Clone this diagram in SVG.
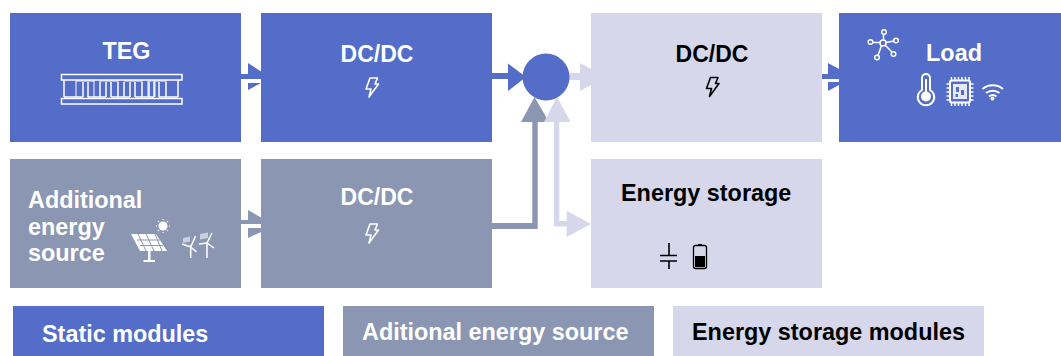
<svg xmlns="http://www.w3.org/2000/svg" width="1061" height="356" viewBox="0 0 1061 356">
<style>
.b{fill:#536DC8}.g{fill:#8B96B2}.l{fill:#D6D7EB}
text{font-family:"Liberation Sans",Arial,sans-serif;font-weight:700;font-size:23.400px}
.d{font-size:23px}
.w{fill:#fff}.k{fill:#000}.m{text-anchor:middle}
.iw{fill:none;stroke:#fff;stroke-width:1.5}
.ik{fill:none;stroke:#000;stroke-width:1.5}
.bolt{stroke-width:1.6;stroke-linejoin:round}
</style>
<defs>
<path id="bolt" class="bolt" d="M4 0H11.500L9 6H12.500L3 19L5 11H0Z"/>
</defs>
<g id="connectors">
<g class="b"><rect x="241" y="74" width="10" height="5"/><path d="M248 63L261 71.500V83L248 90Z"/>
<rect x="492" y="73" width="20" height="6"/><path d="M508 63.500L526 77L508 91Z"/>
<rect x="822" y="74" width="10" height="5"/><path d="M828 63L839 69V85L828 91Z"/></g>
<rect x="241" y="79" width="20" height="4" fill="#fff"/>
<rect x="822" y="79" width="17" height="3" fill="#fff"/>
<g class="g"><rect x="241" y="220" width="10" height="4"/><path d="M248 210L261 217.500V232L248 238Z"/>
<path d="M492 223H532.300V120H537.700V229H492Z"/><path d="M521 122L534.500 97L549 122Z"/></g>
<rect x="241" y="224" width="20" height="4" fill="#fff"/>
<g class="l"><rect x="569" y="73" width="14" height="7"/><path d="M580 63L591 69V85L580 91Z"/>
<path d="M554 120H559.300V221H570V226.500H554Z"/><path d="M544 122L557 97L570.700 122Z"/>
<path d="M566.700 210.700L591 224L566.700 237Z"/></g>
</g>
<g id="node-teg">
<rect class="b" x="10" y="13" width="231" height="129"/>
<text class="w m" x="126.500" y="59">TEG</text>
<g class="iw">
<rect x="61.500" y="74.500" width="120.500" height="5.500"/><rect x="61.500" y="98.500" width="120.500" height="5.500"/>
<path d="M64 80V97M178 80V97M64 97H83M87.500 97H106M111 97H130M135 97H154M159 97H178"/>
<path opacity=".65" d="M76 81H94M99 81H119M124 81H143M148 81H167"/>
<path d="M83 82V97M88 82V97M100 82V97M106 82V97M111 82V97M118 82V97M124 82V97M130 82V97M135 82V97M142 82V97M149 82V97M154 82V97M159 82V97M166 82V97"/>
<path opacity=".65" d="M76 81V97M94 81V97M148 81V97M155 81V97"/>
</g>
</g>
<g id="node-dcdc1">
<rect class="b" x="261" y="13" width="231" height="129"/>
<text class="w m d" x="377" y="62">DC/DC</text>
<use href="#bolt" x="366" y="78" class="iw"/>
</g>
<g id="node-junction"><circle class="b" cx="546" cy="77" r="23.500"/></g>
<g id="node-dcdc3">
<rect class="l" x="591" y="13" width="231" height="129"/>
<text class="k m d" x="712" y="62">DC/DC</text>
<use href="#bolt" x="706.500" y="77.500" class="ik"/>
</g>
<g id="node-load">
<rect class="b" x="839" y="13" width="222" height="129"/>
<text class="w m" x="954" y="61">Load</text>
<g class="iw">
<circle cx="883" cy="43" r="3"/><circle cx="884" cy="32" r="2.300"/><circle cx="870.500" cy="42" r="2.300"/><circle cx="896" cy="40.500" r="2.300"/><circle cx="893.500" cy="54" r="2.300"/><circle cx="877" cy="57.500" r="2.300"/>
<path d="M883.500 40V34.500M880 42.500H873M886 42.500L894 41M885 45L892 52M881.500 45.500L878 55.500"/>
<path stroke-width="2" d="M922 90V78A4 4 0 0 1 930 78V90A8.200 8.200 0 1 1 922 90Z"/>
<rect x="950" y="80.500" width="20" height="22" rx="2" stroke-width="2"/>
<path d="M951.500 77V80M955 77V80M958.500 77V80M962 77V80M965.500 77V80M969 77V80M951.500 103V106M955 103V106M958.500 103V106M962 103V106M965.500 103V106M969 103V106M946.500 84H950M946.500 88H950M946.500 92H950M946.500 96H950M946.500 100H950M970 84H973.500M970 88H973.500M970 92H973.500M970 96H973.500M970 100H973.500"/>
<path stroke-width="2" d="M982.500 89A16 16 0 0 1 1003 89M986 93A11 11 0 0 1 999.500 93M989 96.500A6 6 0 0 1 996.500 96.500"/>
</g>
<circle cx="926" cy="96.500" r="5" fill="#fff"/><rect x="925" y="79" width="2" height="15" fill="#fff"/>
<circle cx="992.500" cy="98.500" r="2" fill="#fff"/>
<path d="M953 84H967V99H953ZM956 87V92H959V87ZM961 90V95H964V90ZM955.500 94V97H958V94Z" fill="#fff" opacity=".85" fill-rule="evenodd"/>
</g>
<g id="node-additional">
<rect class="g" x="10" y="159" width="231" height="129"/>
<text class="w" x="28" y="208">Additional</text>
<text class="w" x="28" y="235">energy</text>
<text class="w" x="28" y="261">source</text>
<circle cx="163" cy="226" r="4.500" fill="#fff"/>
<path class="iw" stroke-width="1" opacity=".75" d="M163 219V220M163 232V233M156 226H157M169 226H170M158 221L159 222M167 230L168 231M158 231L159 230M167 222L168 221"/>
<path d="M131 234H156L167 251H140Z" fill="#fff"/>
<path d="M137 240H160M140 245.500H163M138 234L146 251M146 234L154 251M155 234L162 251" stroke="#8B96B2" fill="none"/>
<path d="M148 251H150.500V260H155V262H143.500V260H148Z" fill="#fff"/>
<path class="iw" stroke-width="2.200" d="M190.700 245V258M207 242V258"/>
<path class="iw" stroke-width="1.800" d="M182 244L190.700 247L195.500 236M190.700 247L196.500 252M199 244L207 243L212 233M207 243L214 248"/>
<path d="M183 238L190 236.500V241.500L183 243ZM200 234L208 232.500V238L200 239.500Z" fill="#fff" opacity=".55"/>
</g>
<g id="node-dcdc2">
<rect class="g" x="261" y="159" width="231" height="129"/>
<text class="w m d" x="377" y="205">DC/DC</text>
<use href="#bolt" x="366" y="224" class="iw"/>
</g>
<g id="node-storage">
<rect class="l" x="591" y="159" width="231" height="129"/>
<text class="k" x="621" y="201">Energy storage</text>
<path d="M669 243V256M669 261V269M660 255.500H677M660 261H677" fill="none" stroke="#000" stroke-width="1.600"/>
<rect x="693.500" y="245.500" width="13" height="23" rx="2" fill="none" stroke="#000" stroke-width="1.300"/>
<rect x="698" y="244" width="4" height="1.500" fill="#000"/>
<rect x="695" y="256" width="10" height="11" fill="#000"/>
</g>
<g id="legend-static">
<rect class="b" x="13" y="306" width="311" height="50"/>
<text class="w" x="42" y="342">Static modules</text>
</g>
<g id="legend-additional">
<rect class="g" x="343" y="306" width="311" height="50"/>
<text class="w" x="362" y="340">Aditional energy source</text>
</g>
<g id="legend-storage">
<rect class="l" x="673" y="306" width="311" height="50"/>
<text class="k" x="692" y="340">Energy storage modules</text>
</g>
</svg>
